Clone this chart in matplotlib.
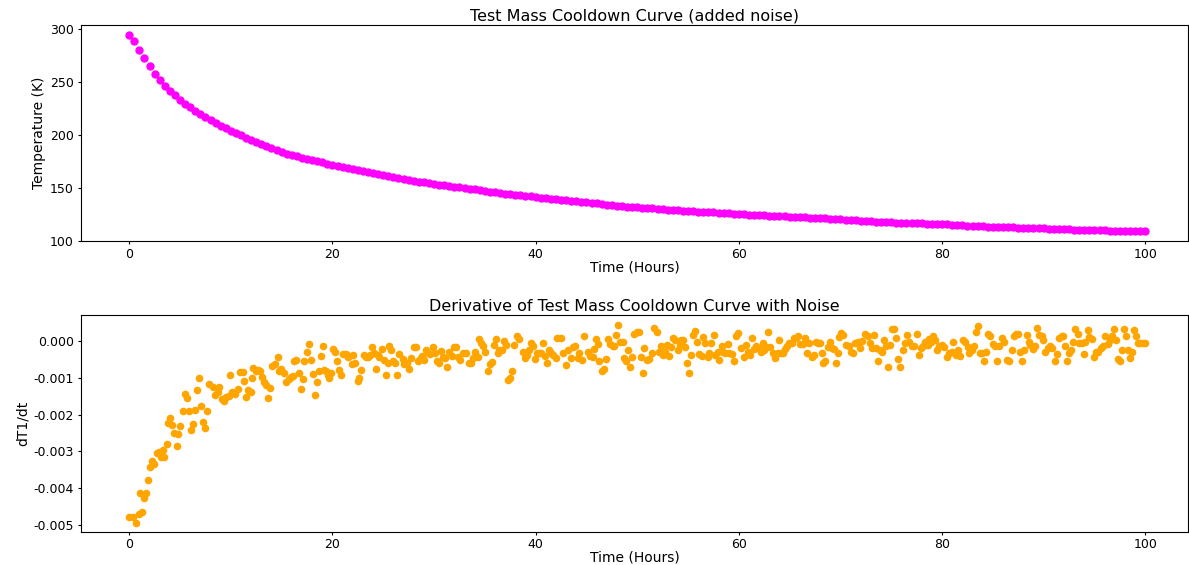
import matplotlib
matplotlib.use("Agg")
import matplotlib.pyplot as plt

plt.rcParams['axes.unicode_minus'] = False
plt.rcParams['xtick.labelsize'] = 9
plt.rcParams['ytick.labelsize'] = 9
plt.rcParams['xtick.major.size'] = 2.5
plt.rcParams['ytick.major.size'] = 2.5
plt.rcParams['xtick.major.pad'] = 2
plt.rcParams['ytick.major.pad'] = 2.5

# top panel: temperature read every half hour (K)
temp_hours = [i * 0.5 for i in range(201)]
temp_K = [
    294.5, 288.5, 280.5, 272.5, 265.0, 258.0, 252.0, 246.5, 242.0, 237.5,
    233.5, 229.8, 226.2, 222.8, 219.7, 216.7, 213.9, 211.3, 208.8, 206.4,
    204.2, 202.0, 199.9, 197.0, 195.0, 193.1, 191.3, 189.5, 187.6, 185.8,
    184.1, 182.5, 181.2, 179.9, 178.8, 177.7, 176.5, 175.3, 174.2, 173.1,
    172.0, 171.0, 170.0, 168.9, 167.8, 166.8, 165.8, 164.9, 163.9, 162.9,
    161.9, 161.0, 160.1, 159.2, 158.4, 157.6, 156.8, 156.0, 155.3, 154.6,
    153.9, 153.3, 152.7, 152.1, 151.5, 150.8, 150.1, 149.4, 148.7, 148.0,
    147.3, 146.7, 146.1, 145.5, 144.9, 144.3, 143.8, 143.3, 142.7, 142.1,
    141.5, 140.9, 140.3, 139.8, 139.3, 138.8, 138.4, 138.0, 137.6, 137.2,
    136.8, 136.3, 135.7, 135.1, 134.5, 133.9, 133.4, 133.0, 132.6, 132.2,
    131.8, 131.4, 131.1, 130.8, 130.5, 130.2, 129.8, 129.5, 129.1, 128.8,
    128.5, 128.2, 127.9, 127.6, 127.3, 127.0, 126.7, 126.4, 126.1, 125.9,
    125.6, 125.3, 125.0, 124.8, 124.5, 124.2, 124.0, 123.7, 123.5, 123.3,
    123.0, 122.8, 122.6, 122.4, 122.1, 121.9, 121.7, 121.4, 121.1, 120.8,
    120.5, 120.2, 119.8, 119.5, 119.2, 118.9, 118.6, 118.4, 118.1, 117.9,
    117.7, 117.5, 117.3, 117.2, 117.1, 116.9, 116.8, 116.6, 116.4, 116.1,
    115.9, 115.7, 115.5, 115.2, 115.0, 114.7, 114.5, 114.2, 114.0, 113.7,
    113.5, 113.4, 113.2, 113.1, 113.0, 112.8, 112.7, 112.5, 112.3, 112.1,
    111.9, 111.7, 111.5, 111.3, 111.2, 111.0, 110.9, 110.7, 110.6, 110.5,
    110.4, 110.3, 110.2, 110.0, 109.9, 109.8, 109.7, 109.6, 109.5, 109.5,
    109.4,
]

# bottom panel: noisy derivative points
deriv_hours = [
    0, 0.33, 0.66, 0.92, 1.25, 1.05, 1.48, 1.64, 1.87, 2.03, 2.29, 2.46,
    2.69, 2.95, 3.12, 3.28, 3.44, 3.67, 3.77, 4.0, 4.23, 4.36, 4.66, 4.76, 4.99,
    5.25, 5.44, 5.64, 5.84, 6.07, 6.3, 6.46, 6.66, 6.89, 7.06, 7.28, 7.48, 7.65,
    7.87, 8.2, 8.46, 8.69, 8.86, 9.12, 9.35, 9.51, 9.84, 9.87, 10.1, 10.43, 10.7,
    10.9, 11.15, 11.25, 11.48, 11.71, 11.94, 12.07, 12.23, 12.47, 12.7, 12.87,
    13.06, 13.22, 13.45, 13.68, 13.85, 14.05, 14.3, 14.6, 14.76,
    14.93, 15.26, 15.42, 15.68, 15.92, 16.07, 16.24, 16.4, 16.67, 16.9, 17.06,
    17.22, 17.45, 17.65, 17.88, 18.04, 18.28, 18.47, 18.63, 18.87, 19.03, 19.19,
    19.36, 19.52, 19.62, 19.85, 20.08, 20.28, 20.44, 20.67, 20.84, 21.06, 21.33,
    21.49, 21.65, 21.88, 22.05, 22.24, 22.47, 22.64, 22.86, 23.06, 23.3, 23.52,
    23.72, 23.89, 24.05, 24.28, 24.44, 24.61, 24.87, 25.03, 25.27, 25.43, 25.59,
    25.76, 25.98, 26.15, 26.38, 26.57, 26.9, 27.07, 27.29, 27.49, 27.72, 27.98,
    28.22, 28.47, 28.64, 28.81, 28.97, 29.2, 29.36, 29.6, 29.85, 30.09, 30.28,
    30.51, 30.68, 30.84, 31.07, 31.27, 31.5, 31.72, 31.92, 32.16, 32.38, 32.58,
    32.81, 33.14, 33.4, 33.63, 33.86, 34.06, 34.28,
    34.45, 34.62, 34.84, 35.04, 35.27, 35.5, 35.7, 35.86, 36.1, 36.25, 36.42,
    36.65, 36.85, 37.08, 37.24, 37.47, 37.67, 37.89, 38.12, 38.39, 38.71, 38.95,
    39.14, 39.37, 39.54, 39.7, 39.9, 40.09, 40.35, 40.52, 40.68, 40.88, 41.07,
    41.27, 41.5, 41.73, 41.99, 42.15, 42.49, 42.72, 42.98, 43.21, 43.47, 43.7,
    43.9, 44.13, 44.29, 44.52, 44.78, 45.11, 45.37, 45.6, 45.77, 45.93, 46.09,
    46.26, 46.52, 46.68, 46.92, 47.15, 47.31, 47.57, 47.74, 47.9, 48.1, 48.33,
    48.56, 48.72, 48.89, 49.05, 49.28, 49.48, 49.7, 49.93, 50.2, 50.36, 50.52,
    50.69, 50.92, 51.18, 51.44, 51.67, 51.94, 52.1,
    52.33, 52.56, 52.76, 52.89, 53.08, 53.32, 53.48, 53.71, 53.97, 54.2, 54.3,
    54.46, 54.72, 54.89, 55.05, 55.29, 55.44, 55.68, 55.87, 56.1, 56.33, 56.5,
    56.69, 56.92, 57.09, 57.28, 57.51, 57.68, 57.9, 58.07, 58.3, 58.46, 58.66,
    58.89, 59.06, 59.28, 59.48, 59.71, 59.94, 60.21, 60.46, 60.7, 60.93, 61.12,
    61.29, 61.45, 61.68, 61.91, 62.17, 62.33, 62.5, 62.67, 62.89, 63.09, 63.32,
    63.55, 63.81, 63.91, 64.14, 64.3, 64.54, 64.73, 64.96, 65.19, 65.38, 65.62,
    65.85, 66.04, 66.27, 66.5, 66.7, 66.93, 67.16, 67.35, 67.59, 67.81, 67.98,
    68.14, 68.31, 68.5, 68.73, 68.96, 69.16, 69.32, 69.56, 69.72, 69.88, 70.08,
    70.3, 70.54, 70.8, 71.03, 71.26, 71.46, 71.68, 71.92, 72.17, 72.44, 72.67,
    72.9, 73.1, 73.26, 73.49, 73.72, 73.89, 74.08, 74.31, 74.48, 74.7, 74.9,
    75.07, 75.3, 75.46, 75.69, 75.89, 76.11, 76.35, 76.54, 76.77, 77.0, 77.26,
    77.49, 77.69, 77.92, 78.08, 78.35, 78.57, 78.74, 78.94, 79.13, 79.33, 79.5,
    79.72, 79.95, 80.22, 80.44, 80.71, 80.94, 81.1, 81.37, 81.59, 81.79, 82.02,
    82.28, 82.51, 82.68, 82.9, 83.1, 83.33, 83.53, 83.73, 83.93, 84.09, 84.32,
    84.55, 84.74, 84.97, 85.21, 85.4, 85.63, 85.86, 86.12, 86.35, 86.61, 86.88,
    87.04, 87.27, 87.43, 87.67, 87.86, 88.02, 88.32, 88.51, 88.68, 88.91, 89.11,
    89.34, 89.57, 89.83, 89.96, 90.16, 90.38, 90.62, 90.82, 91.14, 91.31, 91.54,
    91.76, 91.86, 92.1, 92.29, 92.45, 92.69, 92.91, 93.11, 93.34, 93.5, 93.73,
    93.93, 94.09, 94.32, 94.49, 94.71, 94.91, 95.15, 95.37, 95.64, 95.87, 96.06,
    96.29, 96.49, 96.68, 96.88, 97.12, 97.27, 97.51, 97.71, 97.9, 98.1, 98.33,
    98.52, 98.69, 98.92, 99.08, 99.31, 99.51, 99.73, 99.97,
]
deriv_vals = [
    -0.00479, -0.00479, -0.00493, -0.00470, -0.00464, -0.00414, -0.00427, -0.00413,
    -0.00377, -0.00342, -0.00325, -0.00334, -0.00305, -0.00301, -0.00314, -0.00296,
    -0.00314, -0.00280, -0.00222, -0.00210, -0.00229, -0.00251, -0.00284, -0.00253,
    -0.00231, -0.00191, -0.00145, -0.00156, -0.00189, -0.00242, -0.00225, -0.00187,
    -0.00133, -0.00101, -0.00176, -0.00221, -0.00237, -0.00191, -0.00117, -0.00124,
    -0.00147, -0.00138, -0.00124, -0.00158, -0.00162, -0.00153, -0.00149, -0.00094,
    -0.00140, -0.00144, -0.00131, -0.00084, -0.00084, -0.00109, -0.00151, -0.00134,
    -0.00139, -0.00100, -0.00073, -0.00083, -0.00079, -0.00083, -0.00099, -0.00112,
    -0.00120, -0.00154, -0.00127, -0.00068, -0.00063, -0.00043, -0.00082,
    -0.00077, -0.00088, -0.00111, -0.00104, -0.00097, -0.00095, -0.00056, -0.00052,
    -0.00086, -0.00131, -0.00104, -0.00056, -0.00029, -0.00008, -0.00052, -0.00090,
    -0.00147, -0.00113, -0.00082, -0.00040, -0.00014, -0.00079, -0.00082, -0.00092,
    -0.00101, -0.00086, -0.00023, -0.00029, -0.00054, -0.00079, -0.00094, -0.00035,
    -0.00035, -0.00045, -0.00041, -0.00063, -0.00038, -0.00061, -0.00109, -0.00101,
    -0.00079, -0.00038, -0.00043, -0.00045, -0.00038, -0.00018, -0.00033, -0.00076,
    -0.00038, -0.00043, -0.00023, -0.00052, -0.00092, -0.00061, -0.00015, -0.00026,
    -0.00056, -0.00059, -0.00092, -0.00035, -0.00050, -0.00063, -0.00059, -0.00076,
    -0.00047, -0.00017, -0.00018, -0.00054, -0.00050, -0.00041, -0.00052, -0.00026,
    -0.00032, -0.00036, -0.00018, -0.00032, -0.00056, -0.00061, -0.00027, -0.00043,
    -0.00047, -0.00071, -0.00029, -0.00041, -0.00017, -0.00018, -0.00043, -0.00052,
    -0.00033, -0.00033, -0.00061, -0.00061, -0.00047, -0.00029, -0.00043,
    0.00005, -0.00006, -0.00015, -0.00029, -0.00081, -0.00063, -0.00058, -0.00011,
    0.00005, -0.00032, -0.00024, -0.00024, 0.00000, -0.00011, -0.00106, -0.00101,
    -0.00081, -0.00011, 0.00012, 0.00005, -0.00029, -0.00047, -0.00038, -0.00024,
    -0.00005, -0.00015, -0.00050, -0.00032, -0.00032, -0.00033, -0.00006, -0.00041,
    -0.00059, -0.00024, -0.00033, -0.00038, -0.00047, 0.00007, 0.00007, -0.00033,
    -0.00065, -0.00024, -0.00047, -0.00017, -0.00014, -0.00047, -0.00032, -0.00052,
    0.00012, -0.00029, -0.00040, -0.00043, -0.00023, 0.00005, -0.00008, -0.00056,
    -0.00083, -0.00077, -0.00050, 0.00005, -0.00009, -0.00014, -0.00014, 0.00016,
    0.00043, -0.00002, -0.00002, -0.00047, -0.00056, -0.00024, -0.00070, -0.00043,
    0.00019, 0.00023, 0.00023, -0.00043, -0.00086, -0.00020, -0.00052, -0.00050,
    -0.00033, 0.00035, 0.00025, -0.00031,
    -0.00015, -0.00038, -0.00029, -0.00011, -0.00041, -0.00017, 0.00007, 0.00003,
    -0.00026, -0.00011, 0.00001, 0.00001, -0.00017, -0.00059, -0.00086, -0.00038,
    0.00016, 0.00028, -0.00004, -0.00036, -0.00040, 0.00010, -0.00006, -0.00043,
    -0.00033, -0.00006, 0.00016, -0.00038, -0.00029, -0.00052, -0.00013, -0.00029,
    -0.00032, -0.00008, -0.00033, -0.00035, -0.00054, 0.00014, 0.00021, -0.00020,
    -0.00045, -0.00011, -0.00029, -0.00038, 0.00007, -0.00023, -0.00015, -0.00020,
    -0.00029, -0.00006, -0.00024, -0.00017, 0.00024, -0.00017, -0.00033, -0.00047,
    -0.00033, 0.00003, -0.00033, -0.00033, -0.00023, -0.00015, -0.00006, -0.00005,
    0.00007, 0.00009, 0.00014, -0.00008, -0.00008, 0.00009, -0.00032, -0.00005,
    -0.00043, -0.00038, -0.00004, -0.00005, -0.00005, -0.00032, -0.00059, -0.00054,
    -0.00017, -0.00002, -0.00020, -0.00023, -0.00061, -0.00032, 0.00010, 0.00021,
    0.00015, -0.00011, -0.00015, -0.00029, -0.00033, -0.00006, -0.00002, -0.00020,
    0.00000, 0.00018, 0.00014, -0.00006, -0.00020, 0.00016, -0.00020, -0.00054,
    -0.00026, -0.00029, 0.00001, -0.00015, -0.00070, -0.00011, 0.00032, 0.00032,
    0.00007, -0.00050, -0.00070, -0.00026, -0.00006, 0.00016, -0.00002, -0.00014,
    -0.00015, 0.00019, -0.00038, -0.00020, -0.00014, -0.00002, -0.00011, 0.00005,
    -0.00002, 0.00014, 0.00003, -0.00024, -0.00014, -0.00011, -0.00017, -0.00043,
    -0.00033, -0.00029, -0.00002, -0.00038, -0.00026, -0.00041, 0.00001, -0.00002,
    -0.00017, -0.00032, -0.00024, -0.00015, 0.00025, 0.00039, -0.00033, -0.00033,
    -0.00054, -0.00029, 0.00019, 0.00012, -0.00008, -0.00014, -0.00056, -0.00014,
    0.00007, -0.00002, -0.00052, -0.00054, -0.00026, 0.00014, 0.00019, 0.00019,
    -0.00029, -0.00054, -0.00026, 0.00016, -0.00002, -0.00011, -0.00023, -0.00014,
    0.00035, 0.00016, 0.00012, 0.00003, -0.00029, -0.00020, -0.00015, -0.00020,
    -0.00054, -0.00036, 0.00007, 0.00012, 0.00014, -0.00015, -0.00054, -0.00033,
    -0.00024, -0.00002, 0.00032, 0.00019, -0.00006, -0.00006, -0.00036, -0.00002,
    0.00030, 0.00010, 0.00005, -0.00043, -0.00029, -0.00029, -0.00020, -0.00014,
    0.00014, -0.00009, 0.00003, 0.00014, 0.00033, 0.00003, -0.00050, -0.00056,
    -0.00024, 0.00032, 0.00014, -0.00024, -0.00047, -0.00029, 0.00030, 0.00012,
    -0.00005, -0.00006, -0.00006, -0.00006,
]

fig = plt.figure(figsize=(11.89, 5.65), dpi=100)
ax1 = fig.add_axes([0.0681, 0.5729, 0.931, 0.3834])
ax2 = fig.add_axes([0.0681, 0.0589, 0.931, 0.3841])

ax1.plot(temp_hours, temp_K, 'o', color='magenta', markersize=5)
ax1.set_title("Test Mass Cooldown Curve (added noise)", fontsize=11.5, pad=3)
ax1.set_xlabel("Time (Hours)", fontsize=10, labelpad=0)
ax1.set_ylabel("Temperature (K)", fontsize=10, labelpad=3)
ax1.set_xlim(-4.75, 104.2)
ax1.set_ylim(99.8, 304.2)

ax2.scatter(deriv_hours, deriv_vals, s=20, color='orange')
ax2.set_title("Derivative of Test Mass Cooldown Curve with Noise", fontsize=11.5, pad=3)
ax2.set_xlabel("Time (Hours)", fontsize=10, labelpad=0)
ax2.set_ylabel("dT1/dt", fontsize=10, labelpad=3)
ax2.set_xlim(-4.75, 104.2)
ax2.set_ylim(-0.00518, 0.00071)

fig.savefig("out.png", dpi=100)
